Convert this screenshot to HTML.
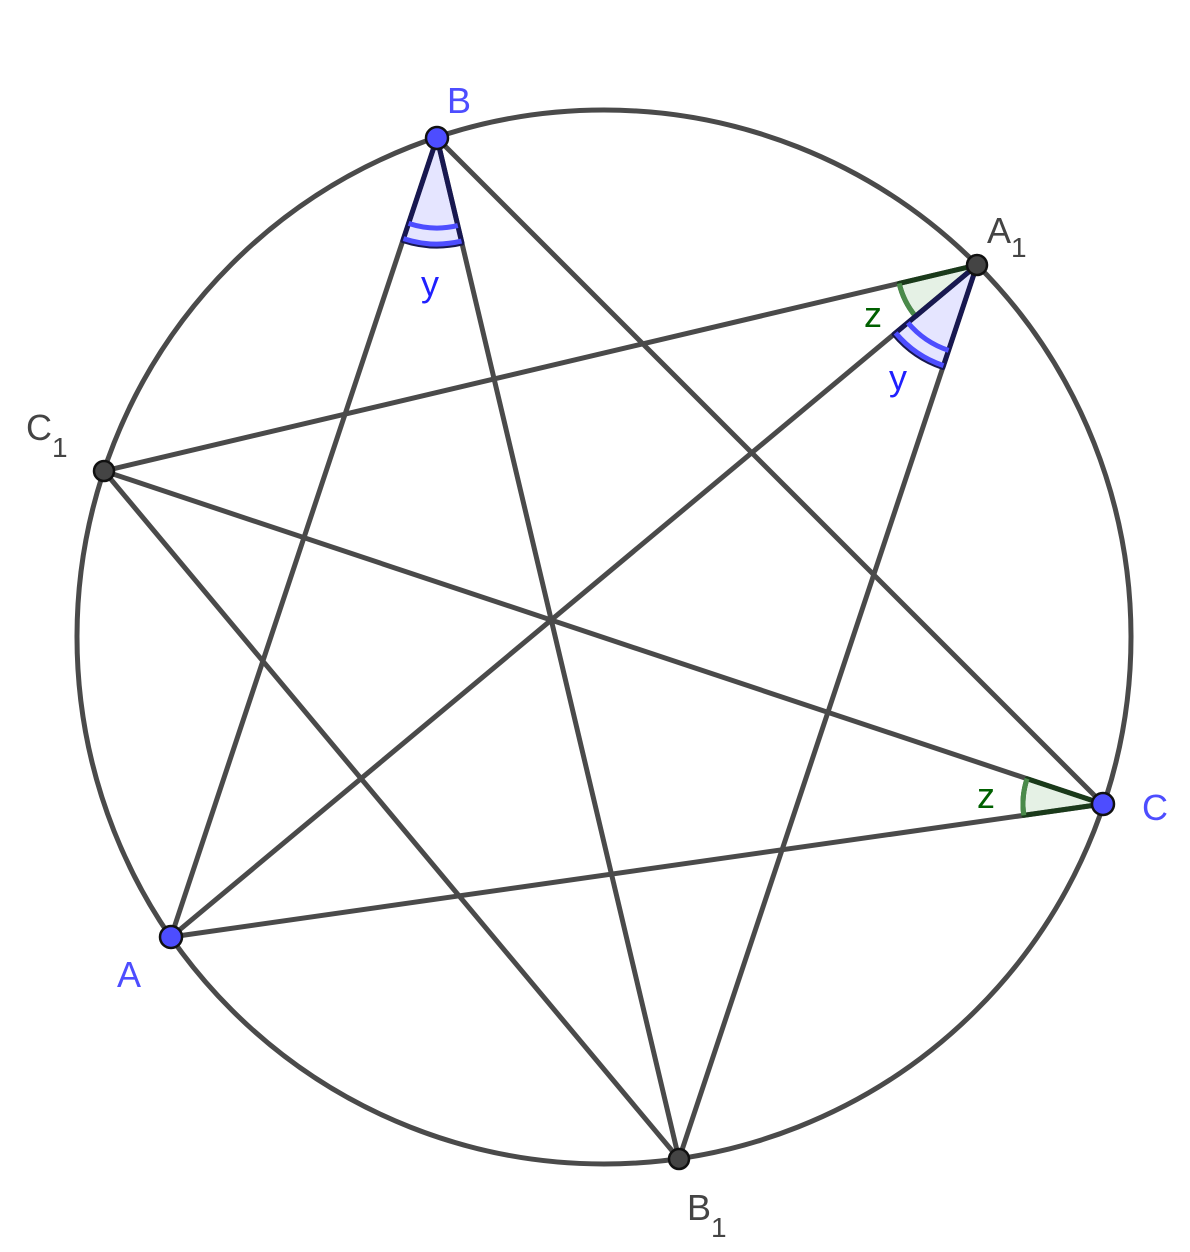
<!DOCTYPE html>
<html><head><meta charset="utf-8"><style>
html,body{margin:0;padding:0;background:#fff}
svg{display:block}
text{font-family:"Liberation Sans",sans-serif}
</style></head><body>
<svg width="1190" height="1252" viewBox="0 0 1190 1252" xmlns="http://www.w3.org/2000/svg">
<circle cx="604" cy="637" r="527" fill="none" stroke="#4a4a4a" stroke-width="5"/>
<g stroke="#4a4a4a" stroke-width="5" fill="none">
<line x1="437" y1="138" x2="171" y2="937"/>
<line x1="437" y1="138" x2="679" y2="1159"/>
<line x1="437" y1="138" x2="1103" y2="804"/>
<line x1="977" y1="265" x2="104" y2="471"/>
<line x1="977" y1="265" x2="171" y2="937"/>
<line x1="977" y1="265" x2="679" y2="1159"/>
<line x1="104" y1="471" x2="1103" y2="804"/>
<line x1="104" y1="471" x2="679" y2="1159"/>
<line x1="1103" y1="804" x2="171" y2="937"/>
</g>
<!-- B angle -->
<path d="M437 138 L402.9 240.5 A108 108 0 0 0 462 243.1 Z" fill="rgba(80,80,255,0.15)" stroke="#181850" stroke-width="5" stroke-linejoin="round"/>
<path d="M408.6 223.4 A90 90 0 0 0 457.8 225.6" fill="none" stroke="#4d4dff" stroke-width="5"/>
<path d="M403.5 238.6 A106 106 0 0 0 461.5 241.1" fill="none" stroke="#4d4dff" stroke-width="5"/>
<!-- A1 green -->
<path d="M977 265 L899.2 283.4 A80 80 0 0 0 915.6 316.3 Z" fill="rgba(0,120,0,0.1)" stroke="#1a3a1a" stroke-width="5" stroke-linejoin="round"/>
<path d="M899.2 283.4 A80 80 0 0 0 915.6 316.3" fill="none" stroke="#4a8a4a" stroke-width="5"/>
<!-- A1 blue -->
<path d="M977 265 L894 334.2 A108 108 0 0 0 942.9 367.5 Z" fill="rgba(80,80,255,0.15)" stroke="#181850" stroke-width="5" stroke-linejoin="round"/>
<path d="M907.9 322.7 A90 90 0 0 0 948.6 350.4" fill="none" stroke="#4d4dff" stroke-width="5"/>
<path d="M895.6 332.9 A106 106 0 0 0 943.5 365.6" fill="none" stroke="#4d4dff" stroke-width="5"/>
<!-- C green -->
<path d="M1103 804 L1027.1 778.7 A80 80 0 0 0 1023.8 815.3 Z" fill="rgba(0,120,0,0.1)" stroke="#1a3a1a" stroke-width="5" stroke-linejoin="round"/>
<path d="M1027.1 778.7 A80 80 0 0 0 1023.8 815.3" fill="none" stroke="#4a8a4a" stroke-width="5"/>
<!-- points -->
<g stroke="#111" stroke-width="2.5">
<circle cx="437" cy="138" r="11" fill="#4d4dff"/>
<circle cx="171" cy="937" r="11" fill="#4d4dff"/>
<circle cx="1103" cy="804" r="11" fill="#4d4dff"/>
<circle cx="977" cy="265" r="10" fill="#444"/>
<circle cx="104" cy="471" r="10" fill="#444"/>
<circle cx="679" cy="1159" r="10" fill="#444"/>
</g>
<g font-size="36">
<text x="447" y="113" fill="#4d4dff">B</text>
<text x="117" y="987" fill="#4d4dff">A</text>
<text x="1142" y="820" fill="#4d4dff">C</text>
<text x="987" y="243" fill="#444">A<tspan font-size="28" dy="14">1</tspan></text>
<text x="26" y="440" fill="#444">C<tspan font-size="28" dy="17">1</tspan></text>
<text x="687" y="1220" fill="#444">B<tspan font-size="28" dy="17">1</tspan></text>
<text x="421" y="296" fill="#2020ff">y</text>
<text x="889" y="390" fill="#2020ff">y</text>
<text x="864" y="327" fill="#006000">z</text>
<text x="977" y="808" fill="#006000">z</text>
</g>
</svg>
</body></html>
